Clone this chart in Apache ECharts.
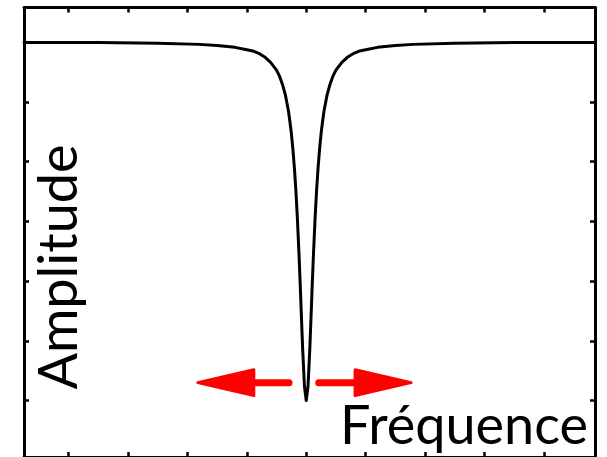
<!DOCTYPE html>
<html>
<head>
<meta charset="utf-8">
<script src="https://cdn.jsdelivr.net/npm/echarts@6/dist/echarts.min.js"></script>
<style>
html,body{margin:0;padding:0;background:#fff;}
#chart{width:607px;height:457px;}
</style>
</head>
<body>
<div id="chart"></div>
<script>
// Frequency axis (in tick units, dip centred at 0)
const freq = [-4.75, -3.5, -2.5, -1.8, -1.5, -1.2, -1.0, -0.9, -0.8, -0.7, -0.6, -0.5, -0.45, -0.4, -0.35, -0.3, -0.275, -0.25, -0.225, -0.2, -0.175, -0.15, -0.12, -0.1, -0.08, -0.06, -0.03, 0,
              0.03, 0.06, 0.08, 0.1, 0.12, 0.15, 0.175, 0.2, 0.225, 0.25, 0.275, 0.3, 0.35, 0.4, 0.45, 0.5, 0.6, 0.7, 0.8, 0.9, 1.0, 1.2, 1.5, 1.8, 2.5, 3.5, 4.86];
// Amplitude (tick units, minimum of the dip = 0)
const amplitude = [5.99, 5.99, 5.98, 5.96, 5.94, 5.91, 5.87, 5.85, 5.81, 5.75, 5.66, 5.53, 5.43, 5.29, 5.11, 4.85, 4.67, 4.47, 4.21, 3.90, 3.53, 3.07, 2.41, 1.91, 1.38, 0.86, 0.24, 0.0,
                   0.24, 0.86, 1.38, 1.91, 2.41, 3.07, 3.53, 3.90, 4.21, 4.47, 4.67, 4.85, 5.11, 5.29, 5.43, 5.53, 5.66, 5.75, 5.81, 5.85, 5.87, 5.91, 5.94, 5.96, 5.98, 5.99, 5.99];
// Tick positions
const xTicks = [-4, -3, -2, -1, 0, 1, 2, 3, 4];
const yTicks = [0, 1, 2, 3, 4, 5, 6];
// Red arrows: tail x, y, tip x, y
const arrowTailX = [-0.29, 0.21];
const arrowTipX = [-1.85, 1.79];
const arrowY = [0.30, 0.30];
// Labels
const yLabel = 'Amplitude';
const xLabel = 'Fréquence';

const X_MIN = -4.75, X_MAX = 4.86, Y_MIN = -0.944, Y_MAX = 6.577;

const chart = echarts.init(document.getElementById('chart'), null, {renderer: 'canvas'});

const lineData = freq.map((f, i) => [f, amplitude[i]]);
const arrowData = arrowTailX.map((t, i) => [t, arrowY[i], arrowTipX[i], arrowY[i]]);

function axisCommon(pos, isX, ticks) {
  return {
    type: 'value',
    position: pos,
    min: isX ? X_MIN : Y_MIN,
    max: isX ? X_MAX : Y_MAX,
    axisLine: {show: true, onZero: false, lineStyle: {color: '#000', width: 3}},
    axisTick: {show: true, inside: true, length: 5, customValues: ticks, lineStyle: {color: '#000', width: 2.5}},
    axisLabel: {show: false},
    splitLine: {show: false}
  };
}

const option = {
  animation: false,
  backgroundColor: '#ffffff',
  grid: {left: 24, right: 12, top: 7.5, bottom: -0.5, containLabel: false},
  xAxis: [axisCommon('bottom', true, xTicks), axisCommon('top', true, xTicks)],
  yAxis: [axisCommon('left', false, yTicks), axisCommon('right', false, yTicks)],
  series: [
    {
      type: 'line',
      xAxisIndex: 0,
      yAxisIndex: 0,
      data: lineData,
      showSymbol: false,
      smooth: false,
      lineStyle: {color: '#000', width: 3, join: 'round', cap: 'round'},
      z: 3
    },
    {
      type: 'custom',
      xAxisIndex: 0,
      yAxisIndex: 0,
      data: arrowData,
      encode: {x: [0, 2], y: [1, 3]},
      z: 4,
      renderItem: function (params, api) {
        const tail = api.coord([api.value(0), api.value(1)]);
        const tip = api.coord([api.value(2), api.value(3)]);
        const dx = tip[0] - tail[0], dy = tip[1] - tail[1];
        const len = Math.sqrt(dx * dx + dy * dy);
        const ux = dx / len, uy = dy / len;
        const headLen = 56, hw = 13;
        const t = [tip[0] - ux * 1.5, tip[1] - uy * 1.5];
        const base = [t[0] - ux * headLen, t[1] - uy * headLen];
        return {
          type: 'group',
          children: [
            {
              type: 'line',
              shape: {x1: tail[0], y1: tail[1], x2: base[0] + ux * 4, y2: base[1] + uy * 4},
              style: {stroke: '#ff0000', lineWidth: 7, lineCap: 'round'}
            },
            {
              type: 'polygon',
              shape: {points: [t, [base[0] - uy * hw, base[1] + ux * hw], [base[0] + uy * hw, base[1] - ux * hw]]},
              style: {fill: '#ff0000', stroke: '#ff0000', lineWidth: 3, lineJoin: 'round'}
            }
          ]
        };
      }
    }
  ],
  graphic: [
    {
      type: 'text',
      x: 60,
      y: 267,
      rotation: Math.PI / 2,
      z: 10,
      style: {text: yLabel, fill: '#000', font: '54px Lato', fontSize: 54, fontFamily: 'Lato',
              align: 'center', verticalAlign: 'middle', textAlign: 'center', textVerticalAlign: 'middle'}
    },
    {
      type: 'text',
      x: 588,
      y: 427,
      z: 10,
      style: {text: xLabel, fill: '#000', font: '54px Lato', fontSize: 54, fontFamily: 'Lato',
              align: 'right', verticalAlign: 'middle', textAlign: 'right', textVerticalAlign: 'middle'}
    }
  ]
};

chart.setOption(option);
</script>
</body>
</html>
